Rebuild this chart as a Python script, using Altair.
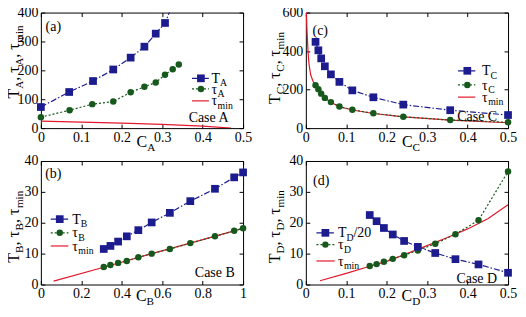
import altair as alt
import pandas as pd

SERIF = "Liberation Serif, Times New Roman, serif"
BLUE = "#1c1c8e"
GREEN = "#17591c"
RED = "#e2192c"
BLACK = "black"
DASHDOT = [6, 2, 1.5, 2]
DOTTED = [2, 2]
SQ = 60
CI = 42

# ---------------- data ----------------
# panel (a)
A_T_C = [0, 0.070, 0.129, 0.179, 0.222, 0.256, 0.284, 0.307]
A_T = [73, 125, 163, 203, 244, 282, 327, 364]
A_TLINE_C = [0, 0.070, 0.129, 0.179, 0.222, 0.256, 0.284, 0.307, 0.322]
A_TLINE = [73, 125, 163, 203, 244, 282, 327, 364, 415]
A_TAU_C = [0, 0.071, 0.127, 0.179, 0.222, 0.256, 0.284, 0.307, 0.326, 0.341]
A_TAU = [38, 62, 83, 92, 124, 143, 158, 185, 204, 220]
A_MIN_C = [0, 0.1, 0.2, 0.3, 0.4, 0.47]
A_MIN = [24, 21, 17.5, 13, 7, 0]

# panel (c)
C_C = [0.024, 0.031, 0.038, 0.047, 0.062, 0.083, 0.115, 0.167, 0.241, 0.357, 0.5]
C_T = [448, 404, 362, 321, 279, 240, 196, 160, 122, 93, 68]
C_TAU = [223, 202, 179, 157, 135, 112, 95, 77, 59, 42, 30]
C_MIN_C = [0.001, 0.003, 0.0056, 0.008, 0.012, 0.0175, 0.024, 0.031, 0.038, 0.047,
           0.062, 0.083, 0.115, 0.167, 0.241, 0.357, 0.5]
C_MIN = [620, 500, 391, 330, 277, 245, 222, 201, 178, 156, 134, 111, 94, 76, 58, 41, 28]

# panel (b)
B_C = [0.311, 0.344, 0.382, 0.425, 0.482, 0.548, 0.638, 0.739, 0.861, 0.956, 1.0]
B_T = [11.5, 12.5, 13.9, 15.6, 17.6, 20.1, 23.2, 27.0, 31.0, 34.7, 36.3]
B_TAU = [5.7, 6.3, 7.0, 7.6, 8.8, 10.0, 11.5, 13.4, 15.6, 17.4, 18.2]
B_MIN_C = [0.063, 0.311, 0.548, 0.739, 1.0]
B_MIN = [1.1, 5.6, 10.0, 13.4, 18.2]

# panel (d)
D_C = [0.158, 0.175, 0.193, 0.215, 0.243, 0.277, 0.320, 0.370, 0.427, 0.5]
D_T20 = [22.5, 20.5, 18.3, 16.2, 14.1, 12.2, 10.2, 8.2, 6.5, 3.8]
D_TAU = [6.0, 6.6, 7.4, 8.3, 9.5, 11.0, 13.2, 16.3, 20.8, 36.6]
D_MIN_C = [0.035, 0.1, 0.158, 0.2, 0.25, 0.3, 0.35, 0.4, 0.45, 0.5]
D_MIN = [1.2, 3.6, 5.9, 7.5, 10.0, 12.6, 15.2, 18.0, 21.3, 25.8]

X_TICKS_HALF = [0, 0.1, 0.2, 0.3, 0.4, 0.5]
X_TICKS_ONE = [0, 0.2, 0.4, 0.6, 0.8, 1]
Y_TICKS_A = [0, 100, 200, 300, 400]
Y_TICKS_C = [0, 200, 400, 600]
Y_TICKS_BD = [0, 10, 20, 30, 40]

# ---------------- layout ----------------
WL, WR, HT, HB = 203, 203, 116, 124
COL_GAP, ROW_GAP = 63, 33
FS_LAB, FS_TXT, FS_TITLE = 14, 14, 16

# ---------------- text helpers ----------------
ADV = {'T': 0.611, 'A': 0.722, 'B': 0.667, 'C': 0.667, 'D': 0.722, ',': 0.25,
       ' ': 0.25, 'm': 0.778, 'i': 0.278, 'n': 0.5, '/': 0.278, '2': 0.5,
       '0': 0.5, 'τ': 0.44}
ONE = pd.DataFrame({'k': [0]})


def adv(s, fs):
    return sum(ADV.get(c, 0.5) for c in s) * fs


def txt(t, x, y, fs, angle=0, align='left'):
    return alt.Chart(ONE).mark_text(
        text=t, font=SERIF, fontSize=fs, angle=angle, align=align,
        baseline='alphabetic', color=BLACK
    ).encode(x=alt.value(x), y=alt.value(y))


def rich(parts, x, y, fs, rotated=False, center=True):
    sub_fs = fs * 0.7
    sh = fs * 0.25
    items = [(t, sub_fs if s else fs, s) for t, s in parts]
    total = sum(adv(t, f) for t, f, _ in items)
    out = []
    if rotated:
        pos = y + total / 2 if center else y
        for t, f, s in items:
            if t.strip():
                out.append(txt(t, x + (sh if s else 0), pos, f, angle=270))
            pos -= adv(t, f)
    else:
        pos = x - total / 2 if center else x
        for t, f, s in items:
            if t.strip():
                out.append(txt(t, pos, y + (sh if s else 0), f))
            pos += adv(t, f)
    return out


def anchor(x, y):
    return alt.Chart(ONE).mark_rule(opacity=0).encode(
        x=alt.value(x), x2=alt.value(x), y=alt.value(y), y2=alt.value(y))


class Box:
    """maps positions read in the reference picture onto this panel"""
    def __init__(self, rx, ry, rw, rh, W, H):
        self.rx, self.ry, self.sx, self.sy = rx, ry, W / rw, H / rh

    def x(self, px):
        return (px - self.rx) * self.sx

    def y(self, py):
        return (py - self.ry) * self.sy


def legend(box, rows, x1, x2, xm, xt, fs=FS_TXT):
    out = []
    x1, x2, xm, xt = box.x(x1), box.x(x2), box.x(xm), box.x(xt)
    for yy, kind, parts in rows:
        y = box.y(yy)
        if kind == 'T':
            out.append(alt.Chart(ONE).mark_rule(color=BLUE, strokeWidth=1.2, strokeDash=DASHDOT)
                       .encode(x=alt.value(x1), x2=alt.value(x2), y=alt.value(y)))
            out.append(alt.Chart(ONE).mark_point(shape='square', filled=True, size=SQ, color=BLUE, opacity=1)
                       .encode(x=alt.value(xm), y=alt.value(y)))
        elif kind == 'tau':
            out.append(alt.Chart(ONE).mark_rule(color=GREEN, strokeWidth=1.2, strokeDash=DOTTED)
                       .encode(x=alt.value(x1), x2=alt.value(x2), y=alt.value(y)))
            out.append(alt.Chart(ONE).mark_point(shape='circle', filled=True, size=CI, color=GREEN, opacity=1)
                       .encode(x=alt.value(xm), y=alt.value(y)))
        else:
            out.append(alt.Chart(ONE).mark_rule(color=RED, strokeWidth=1.2)
                       .encode(x=alt.value(x1), x2=alt.value(x2), y=alt.value(y)))
        out += rich(parts, xt, y + 0.33 * fs, fs, center=False)
    return out


def labels(box, tag, tagpos, case, casepos, fs=FS_TXT):
    return [txt(tag, box.x(tagpos[0]), box.y(tagpos[1]) + 0.33 * fs, fs, align='center'),
            txt(case, box.x(casepos[0]), box.y(casepos[1]) + 0.33 * fs, fs, align='center')]


def panel(W, H, xdom, xvals, ydom, yvals, Tl_c, Tl_v, T_c, T_v, tau_c, tau_v,
          min_c, min_v, extra):
    xs = alt.Scale(domain=xdom, nice=False, zero=False)
    ys = alt.Scale(domain=ydom, nice=False, zero=False)
    common = dict(grid=False, domain=False, tickSize=4, offset=-4, tickColor=BLACK,
                  title=None, labelFont=SERIF, labelFontSize=FS_LAB, labelColor=BLACK,
                  labelOverlap=False, labelFlush=False, format='~f')
    ax_b = alt.Axis(values=xvals, orient='bottom', labelPadding=2, **common)
    ax_l = alt.Axis(values=yvals, orient='left', labelPadding=3, **common)
    ax_t = alt.Axis(values=xvals, orient='top', labels=False, grid=False, domain=False,
                    tickSize=4, offset=-4, tickColor=BLACK, title=None)
    ax_r = alt.Axis(values=yvals, orient='right', labels=False, grid=False, domain=False,
                    tickSize=4, offset=-4, tickColor=BLACK, title=None)

    def enc(ch, xa=None, ya=None):
        return ch.encode(x=alt.X('c:Q', scale=xs, axis=xa), y=alt.Y('v:Q', scale=ys, axis=ya))

    d_min = pd.DataFrame({'c': min_c, 'v': min_v})
    d_tau = pd.DataFrame({'c': tau_c, 'v': tau_v})
    d_T = pd.DataFrame({'c': T_c, 'v': T_v})
    d_Tl = pd.DataFrame({'c': Tl_c, 'v': Tl_v})

    red = enc(alt.Chart(d_min).mark_line(color=RED, strokeWidth=1.2, clip=True), ax_b, ax_l)
    tau_line = enc(alt.Chart(d_tau).mark_line(color=GREEN, strokeWidth=1.2, strokeDash=DOTTED, clip=True))
    tau_pts = enc(alt.Chart(d_tau).mark_point(shape='circle', filled=True, size=CI, color=GREEN, opacity=1))
    T_line = enc(alt.Chart(d_Tl).mark_line(color=BLUE, strokeWidth=1.2, strokeDash=DASHDOT, clip=True))
    T_pts = enc(alt.Chart(d_T).mark_point(shape='square', filled=True, size=SQ, color=BLUE, opacity=1))
    mirror = enc(alt.Chart(d_T).mark_point(opacity=0), ax_t, ax_r)
    return alt.layer(red, tau_line, tau_pts, T_line, T_pts, mirror, *extra).resolve_axis(
        x='independent', y='independent').properties(width=W, height=H)


def title_parts(s):
    return [("T", 0), (s, 1), (",", 0), (" ", 0), ("τ", 0), (s, 1), (",", 0), (" ", 0),
            ("τ", 0), ("min", 1)]


# panel (a)
bA = Box(33, 6, 211, 123, WL, HT)
extra_a = [anchor(-40, -20)]
extra_a += labels(bA, "(a)", (46, 21), "Case A", (208, 118))
extra_a += legend(bA, [(76, 'T', [("T", 0), ("A", 1)]),
                       (87.3, 'tau', [("τ", 0), ("A", 1)]),
                       (100, 'min', [("τ", 0), ("min", 1)])], 190.7, 208.3, 200, 211)
extra_a += rich([("C", 0), ("A", 1)], WL / 2 + 4, HT + 19, FS_TITLE)
extra_a += rich(title_parts("A"), -21.5, bA.y(58.5), FS_TITLE, rotated=True)
pA = panel(WL, HT, [0, 0.5], X_TICKS_HALF, [0, 400], Y_TICKS_A, A_TLINE_C, A_TLINE,
           A_T_C, A_T, A_TAU_C, A_TAU, A_MIN_C, A_MIN, extra_a)

# panel (c)
bC = Box(307, 6, 210, 123, WR, HT)
extra_c = labels(bC, "(c)", (322, 25), "Case C", (485, 116))
extra_c += legend(bC, [(68, 'T', [("T", 0), ("C", 1)]),
                       (83, 'tau', [("τ", 0), ("C", 1)]),
                       (96, 'min', [("τ", 0), ("min", 1)])], 465, 483, 474.7, 490)
extra_c += rich([("C", 0), ("C", 1)], WR / 2 + 4, HT + 19, FS_TITLE)
extra_c += rich(title_parts("C"), -26, bC.y(65), FS_TITLE, rotated=True)
pC = panel(WR, HT, [0, 0.5], X_TICKS_HALF, [0, 600], Y_TICKS_C, C_C, C_T,
           C_C, C_T, C_C, C_TAU, C_MIN_C, C_MIN, extra_c)

# panel (b)
bB = Box(33, 164, 211, 126, WL, HB)
extra_b = labels(bB, "(b)", (46, 177), "Case B", (214.5, 278))
extra_b += legend(bB, [(223.3, 'T', [("T", 0), ("B", 1)]),
                       (237.3, 'tau', [("τ", 0), ("B", 1)]),
                       (250.7, 'min', [("τ", 0), ("min", 1)])], 43.3, 61.7, 52.7, 65.7)
extra_b += rich([("C", 0), ("B", 1)], WL / 2 + 3, HB + 17, FS_TITLE)
extra_b += rich(title_parts("B"), -21.5, bB.y(231), FS_TITLE, rotated=True)
pB = panel(WL, HB, [0, 1], X_TICKS_ONE, [0, 40], Y_TICKS_BD, B_C, B_T,
           B_C, B_T, B_C, B_TAU, B_MIN_C, B_MIN, extra_b)

# panel (d)
bD = Box(307, 164, 210, 126, WR, HB)
extra_d = [anchor(WR + 15, HB + 30)]
extra_d += labels(bD, "(d)", (323, 184), "Case D", (484.5, 283.5))
extra_d += legend(bD, [(237.3, 'T', [("T", 0), ("D", 1), ("/20", 0)]),
                       (249.3, 'tau', [("τ", 0), ("D", 1)]),
                       (266, 'min', [("τ", 0), ("min", 1)])], 318, 337, 327.3, 340.3)
extra_d += rich([("C", 0), ("D", 1)], WR / 2 + 4, HB + 17, FS_TITLE)
extra_d += rich(title_parts("D"), -26, bD.y(231), FS_TITLE, rotated=True)
pD = panel(WR, HB, [0, 0.5], X_TICKS_HALF, [0, 40], Y_TICKS_BD, D_C, D_T20,
           D_C, D_T20, D_C, D_TAU, D_MIN_C, D_MIN, extra_d)

# page placement: plot (a) at page (40, 11); svg kept inside 8..518 x 8..305
LEFT_A, TOP_A = 40, 11
right_page = LEFT_A + WL + COL_GAP + WR + 15
bottom_page = TOP_A + HT + ROW_GAP + HB + 30
pad = {"left": LEFT_A - 8 - 40, "top": TOP_A - 8 - 20,
       "right": 518 - right_page, "bottom": 305 - bottom_page}

chart = alt.concat(pA, pC, pB, pD, columns=2, spacing={"row": ROW_GAP, "column": COL_GAP},
                   bounds='flush').properties(padding=pad).configure_view(stroke=BLACK, strokeWidth=1)

chart.save("out.html", embed_options={"renderer": "svg", "actions": False})
